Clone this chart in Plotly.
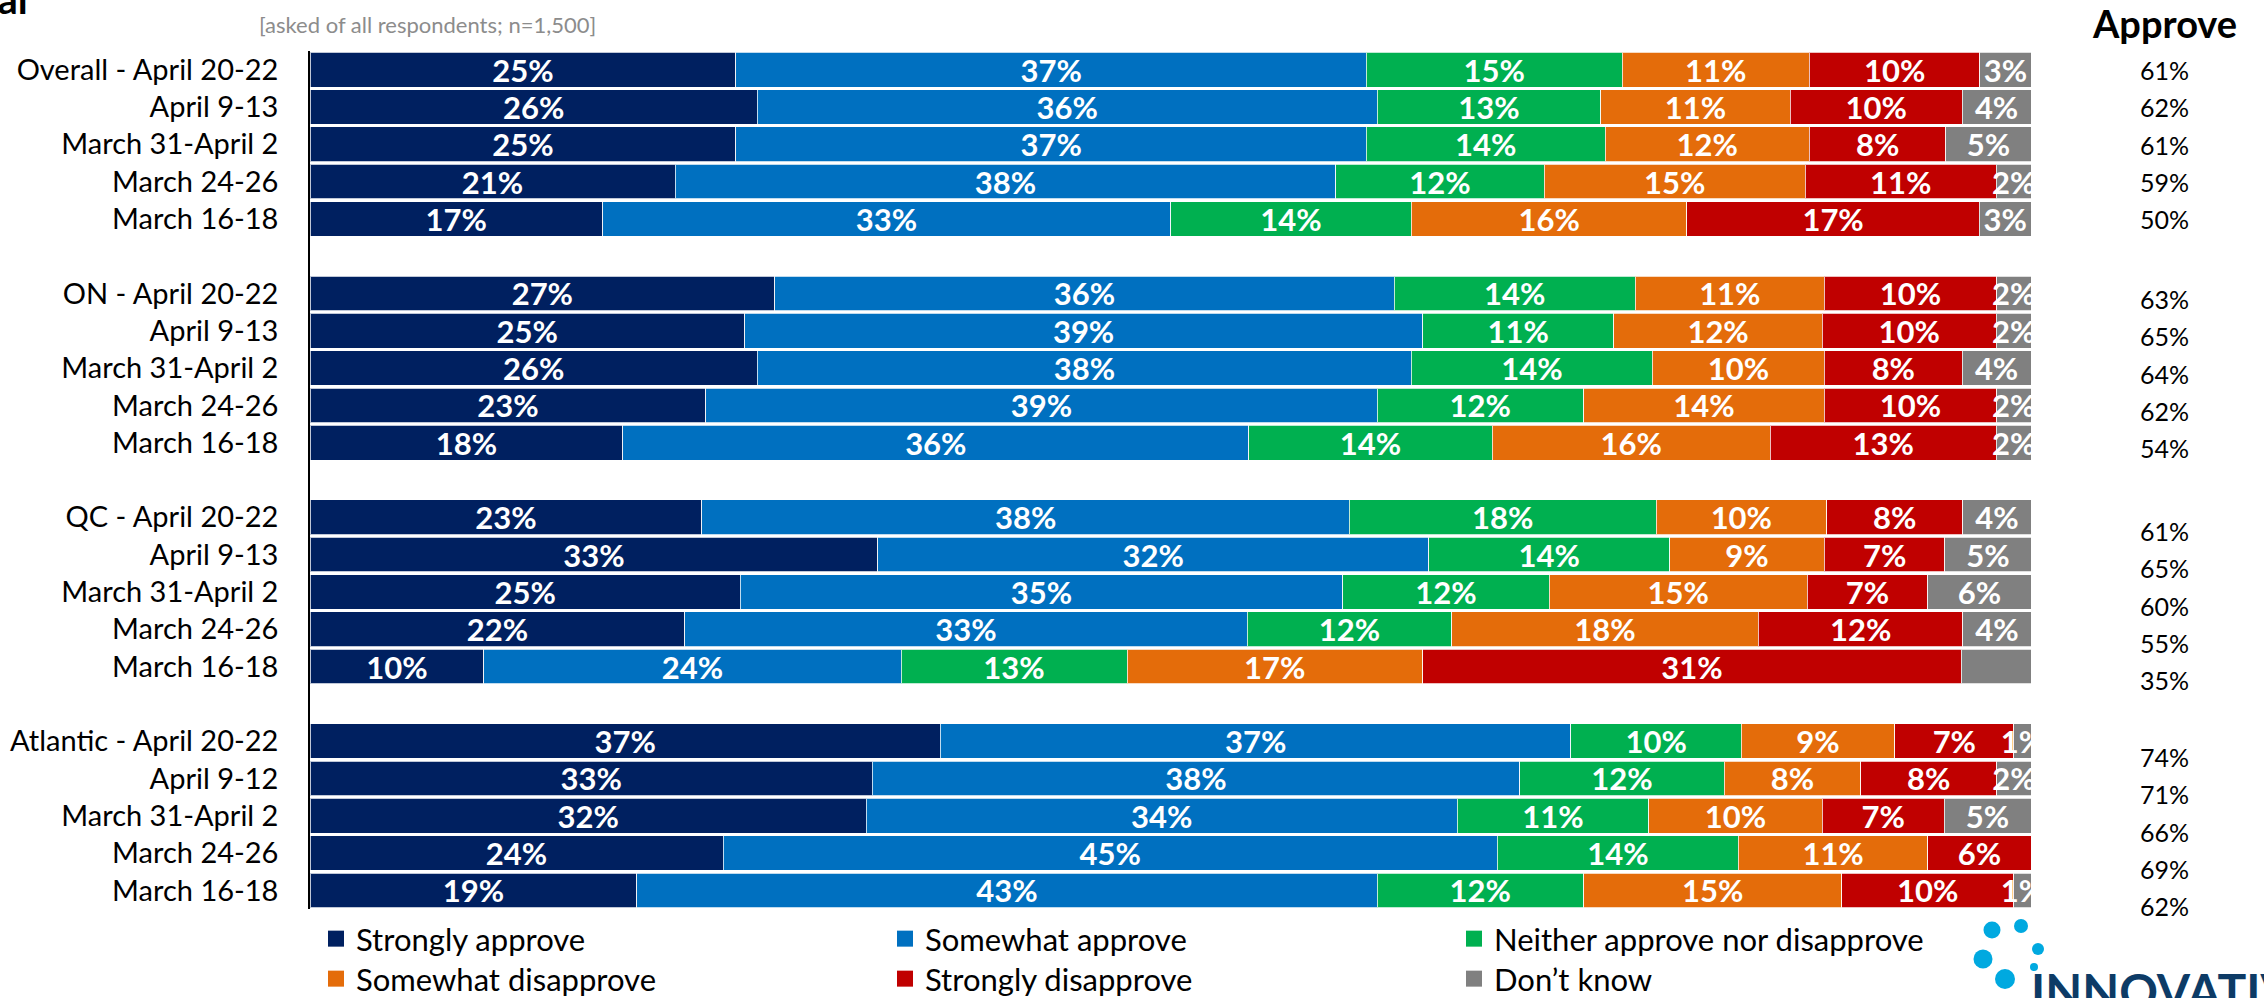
import plotly.graph_objects as go

# ---------------- data ----------------
row_labels = [
    "Overall - April 20-22", "April 9-13", "March 31-April 2", "March 24-26", "March 16-18",
    "ON - April 20-22", "April 9-13", "March 31-April 2", "March 24-26", "March 16-18",
    "QC - April 20-22", "April 9-13", "March 31-April 2", "March 24-26", "March 16-18",
    "Atlantic - April 20-22", "April 9-12", "March 31-April 2", "March 24-26", "March 16-18",
]
group_of_row = [0]*5 + [1]*5 + [2]*5 + [3]*5

series_names = ["Strongly approve", "Somewhat approve", "Neither approve nor disapprove",
                "Somewhat disapprove", "Strongly disapprove", "Don\u2019t know"]

strongly_approve = [25, 26, 25, 21, 17, 27, 25, 26, 23, 18, 23, 33, 25, 22, 10, 37, 33, 32, 24, 19]
somewhat_approve = [37, 36, 37, 38, 33, 36, 39, 38, 39, 36, 38, 32, 35, 33, 24, 37, 38, 34, 45, 43]
neither          = [15, 13, 14, 12, 14, 14, 11, 14, 12, 14, 18, 14, 12, 12, 13, 10, 12, 11, 14, 12]
somewhat_disapp  = [11, 11, 12, 15, 16, 11, 12, 10, 14, 16, 10,  9, 15, 18, 17,  9,  8, 10, 11, 15]
strongly_disapp  = [10, 10,  8, 11, 17, 10, 10,  8, 10, 13,  8,  7,  7, 12, 31,  7,  8,  7,  6, 10]
dont_know        = [ 3,  4,  5,  2,  3,  2,  2,  4,  2,  2,  4,  5,  6,  4,  4,  1,  2,  5,  0,  1]
dont_know_labels = ["3%", "4%", "5%", "2%", "3%", "2%", "2%", "4%", "2%", "2%",
                    "4%", "5%", "6%", "4%", "", "1%", "2%", "5%", "", "1%"]

approve_totals = [61, 62, 61, 59, 50, 63, 65, 64, 62, 54, 61, 65, 60, 55, 35, 74, 71, 66, 69, 62]

# ---------------- style ----------------
colors = ["#002060", "#0070C0", "#00B050", "#E46C0A", "#C00000", "#808080"]
FONT = "Lato, Carlito, 'Open Sans', sans-serif"
W, H = 2264, 998
ML, MR, MT, MB = 310, 233, 51, 89
PW, PH = W - ML - MR, H - MT - MB

def px_x(p):
    return (p - ML) / PW

def px_y(p):
    return 1 - (p - MT) / PH

# slot positions: 5 rows per group + one blank slot between groups
slots = [g * 6 + (i % 5) for i, g in enumerate(group_of_row)]
approve_shift = [0.01, 0.15, 0.37, 0.43]

all_values = [strongly_approve, somewhat_approve, neither, somewhat_disapp, strongly_disapp, dont_know]
all_labels = [[f"{v}%" for v in s] for s in all_values[:-1]] + [dont_know_labels]

fig = go.Figure()
for k, (name, vals, labs, col) in enumerate(zip(series_names, all_values, all_labels, colors)):
    fig.add_trace(go.Bar(
        y=slots, x=vals, orientation="h", name=name,
        marker=dict(color=col, line=dict(color="rgba(255,255,255,0.75)", width=1)),
        text=labs, textposition="inside", insidetextanchor="middle",
        constraintext="none", textangle=0,
        textfont=dict(family=FONT, size=31, color="white", weight="bold"),
        showlegend=False, hoverinfo="skip",
    ))
    # legend proxy with larger square symbol (two single-row legends)
    fig.add_trace(go.Scatter(
        x=[None], y=[None], mode="markers", name=name,
        marker=dict(symbol="square", size=16, color=col),
        showlegend=True, hoverinfo="skip",
        legend="legend" if k < 3 else "legend2",
    ))

annotations = []
for s, g, a in zip(slots, group_of_row, approve_totals):
    annotations.append(dict(
        x=px_x(2164), xref="paper", y=s + approve_shift[g], yref="y",
        text=f"{a}%", showarrow=False, xanchor="center", yanchor="middle",
        font=dict(family=FONT, size=25, color="black"),
    ))
annotations += [
    dict(x=px_x(2164), xref="paper", y=px_y(23), yref="paper", text="<b>Approve</b>",
         showarrow=False, xanchor="center", yanchor="middle",
         font=dict(family=FONT, size=38, color="black")),
    dict(x=px_x(257), xref="paper", y=px_y(24), yref="paper",
         text="[asked of all respondents; n=1,500]", showarrow=False,
         xanchor="left", yanchor="middle",
         font=dict(family=FONT, size=22, color="#8C8C8C")),
    dict(x=px_x(30), xref="paper", y=px_y(-1), yref="paper", text="<b>Approval</b>",
         showarrow=False, xanchor="right", yanchor="middle",
         font=dict(family=FONT, size=40, color="black")),
    dict(x=px_x(2029), xref="paper", y=px_y(960), yref="paper", text="<b>INNOVATIVE</b>",
         showarrow=False, xanchor="left", yanchor="top",
         font=dict(family=FONT, size=48, color="#0D3B66")),
]

# logo dots
shapes = []
for cx, cy, r in [(1992, 930, 8.5), (2021, 926, 7), (2038, 949, 6),
                  (1983, 959, 9.5), (2034, 967, 4), (2005, 979, 10)]:
    shapes.append(dict(type="circle", xref="paper", yref="paper",
                       x0=px_x(cx - r), x1=px_x(cx + r), y0=px_y(cy + r), y1=px_y(cy - r),
                       fillcolor="#00A9E0", line=dict(width=0), layer="above"))

legend_common = dict(orientation="h", xanchor="left", yanchor="middle",
                     entrywidth=524, entrywidthmode="pixels",
                     font=dict(family=FONT, size=31, color="black"),
                     bgcolor="rgba(0,0,0,0)", borderwidth=0, traceorder="normal")

fig.update_layout(
    width=W, height=H, autosize=False,
    margin=dict(l=ML, r=MR, t=MT, b=MB, pad=0, autoexpand=False),
    barmode="stack", barnorm="percent", bargap=0.07,
    plot_bgcolor="white", paper_bgcolor="white",
    font=dict(family=FONT, size=26, color="black"),
    xaxis=dict(range=[0, 100], visible=False, fixedrange=True),
    yaxis=dict(range=[22.5, -0.5], tickvals=slots, ticktext=row_labels,
               showline=True, linecolor="black", linewidth=1.5, showgrid=False,
               zeroline=False, ticks="", ticklabelstandoff=24,
               tickfont=dict(family=FONT, size=29, color="black"), fixedrange=True),
    legend=dict(x=px_x(316), y=px_y(939), **legend_common),
    legend2=dict(x=px_x(316), y=px_y(979), **legend_common),
    annotations=annotations, shapes=shapes,
)

fig.write_html("out.html", config={"displayModeBar": False},
               post_script="document.body.style.margin='0';document.body.style.overflow='hidden';")
